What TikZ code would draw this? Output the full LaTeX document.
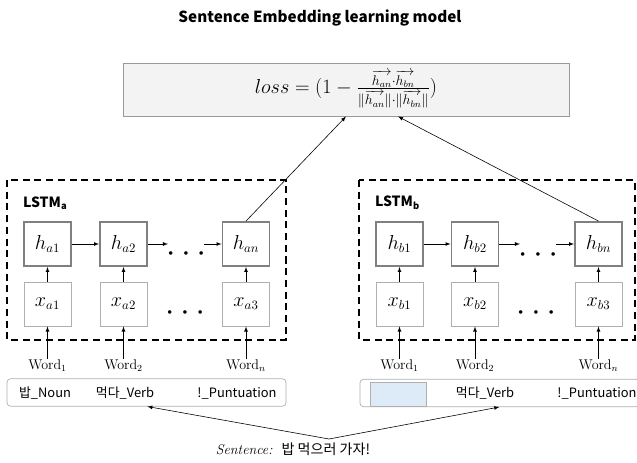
\documentclass[tikz,border=0pt]{standalone}
\usepackage{fontspec}
\usepackage{amsmath}
\newfontfamily\kor{Noto Sans CJK KR}
\usetikzlibrary{calc}
\definecolor{cellgray}{RGB}{128,128,128}
\definecolor{xgray}{RGB}{175,175,175}
\definecolor{lossfill}{RGB}{243,243,243}
\definecolor{blankblue}{RGB}{221,235,248}
\begin{document}
\begin{tikzpicture}[x=0.03cm,y=-0.03cm,
    hcell/.style={draw=cellgray,line width=1.6pt,minimum width=1.41cm,minimum height=1.32cm,inner sep=0pt,font=\fontsize{16}{18}\selectfont},
    xcell/.style={draw=xgray,line width=0.8pt,minimum width=1.41cm,minimum height=1.32cm,inner sep=0pt,font=\fontsize{16}{18}\selectfont},
    lstmbox/.style={draw,line width=1.6pt,dash pattern=on 6pt off 4pt},
    lstmlbl/.style={anchor=west,font=\kor\bfseries\fontsize{12}{14}\selectfont},
    wordlbl/.style={inner sep=1pt,font=\fontsize{12}{14}\selectfont},
    tagbox/.style={draw=xgray,line width=0.6pt,rounded corners=3pt,minimum height=0.82cm},
    tag/.style={inner sep=0pt,font=\kor\fontsize{11}{13}\selectfont},
    dotrow/.style={inner sep=0pt,font=\fontsize{7}{7}\selectfont},
    ptr/.style={-latex,line width=0.5pt}]
  \useasboundingbox (0,0) rectangle (637,462);

  \node[font=\kor\bfseries\fontsize{13}{15}\selectfont] (title) at (320,18) {Sentence Embedding learning model};
  \node[draw=black!40,fill=lossfill,line width=0.8pt,minimum width=13.38cm,minimum height=1.59cm,
        font=\fontsize{17}{20}\selectfont] (loss) at (346,89.5)
    {$loss = (1 - \frac{\overrightarrow{h_{an}}\cdot\overrightarrow{h_{bn}}}{\|\overrightarrow{h_{an}}\|\cdot\|\overrightarrow{h_{bn}}\|})$};

  \draw[lstmbox] (7,180) rectangle (286,340);
  \draw[lstmbox] (359,180) rectangle (635,340);
  \node[lstmlbl] (lstma) at (19,203) {LSTM\textsubscript{a}};
  \node[lstmlbl] (lstmb) at (371,203) {LSTM\textsubscript{b}};

  \draw
    (47.5,244) node[hcell] (ha1) {$h_{a1}$}
    (123.5,244) node[hcell] (ha2) {$h_{a2}$}
    (246,244) node[hcell] (han) {$h_{an}$}
    (47.5,304) node[xcell] (xa1) {$x_{a1}$}
    (123.5,304) node[xcell] (xa2) {$x_{a2}$}
    (246,304) node[xcell] (xa3) {$x_{a3}$}
    (399.5,244) node[hcell] (hb1) {$h_{b1}$}
    (475,244) node[hcell] (hb2) {$h_{b2}$}
    (598.5,244) node[hcell] (hbn) {$h_{bn}$}
    (399.5,304) node[xcell] (xb1) {$x_{b1}$}
    (475,304) node[xcell] (xb2) {$x_{b2}$}
    (598.5,304) node[xcell] (xb3) {$x_{b3}$};
  \draw
    (186,254) node[dotrow] (dotsha) {${\bullet}\hspace{9pt}{\bullet}\hspace{9pt}{\bullet}$}
    (185,313) node[dotrow] (dotsxa) {${\bullet}\hspace{9pt}{\bullet}\hspace{9pt}{\bullet}$}
    (538,255) node[dotrow] (dotshb) {${\bullet}\hspace{9pt}{\bullet}\hspace{9pt}{\bullet}$}
    (536,313) node[dotrow] (dotsxb) {${\bullet}\hspace{9pt}{\bullet}\hspace{9pt}{\bullet}$};

  \draw
    (47.5,366) node[wordlbl] (wa1) {Word$_1$}
    (123.5,366) node[wordlbl] (wa2) {Word$_2$}
    (246,366) node[wordlbl] (wan) {Word$_n$}
    (399.5,366) node[wordlbl] (wb1) {Word$_1$}
    (475,366) node[wordlbl] (wb2) {Word$_2$}
    (598.5,366) node[wordlbl] (wbn) {Word$_n$};

  \node[tagbox,minimum width=8.37cm] (tagsa) at (146.5,392.5) {};
  \node[tagbox,minimum width=8.4cm] (tagsb) at (500,393) {};
  \node[tag] (nouna) at (45,393) {밥\_Noun};
  \node[tag] (verba) at (125,393) {먹다\_Verb};
  \node[tag] (puncta) at (237,393) {!\_Puntuation};
  \node[draw=xgray,fill=blankblue,line width=0.6pt,minimum width=1.68cm,minimum height=0.72cm,inner sep=0pt] (blankb) at (398,394) {};
  \node[tag] (verbb) at (485,393) {먹다\_Verb};
  \node[tag] (punctb) at (597,393) {!\_Puntuation};

  \node[font=\fontsize{12}{14}\selectfont] (sent) at (293,449) {\textit{Sentence:}\ \ {\kor 밥 먹으러 가자!}};
  \coordinate (apex) at (329,439);

  \begin{scope}[ptr]
    \draw (ha1) to (ha2);
    \draw (ha2.east) to (ha2.east -| dotsha.west);
    \draw (dotsha.east |- han.west) to (han.west);
    \draw (hb1) to (hb2);
    \draw (hb2.east) to (hb2.east -| dotshb.west);
    \draw (dotshb.east |- hbn.west) to (hbn.west);
    \draw (xa1) to (ha1);
    \draw (xa2) to (ha2);
    \draw (xa3) to (han);
    \draw (xb1) to (hb1);
    \draw (xb2) to (hb2);
    \draw (xb3) to (hbn);
    \draw (wa1) to (xa1);
    \draw (wa2) to (xa2);
    \draw (wan) to (xa3);
    \draw (wb1) to (xb1);
    \draw (wb2) to (xb2);
    \draw (wbn) to (xb3);
    \draw (han.north) to (loss.south);
    \draw (hbn.north) to ($(loss.south)+(52,0)$);
    \draw (apex) to ($(verba.south east |- tagsa.south)+(-7,0)$);
    \draw (apex) to ($(verbb.south east |- tagsb.south)+(-15,0)$);
  \end{scope}
\end{tikzpicture}
\end{document}
